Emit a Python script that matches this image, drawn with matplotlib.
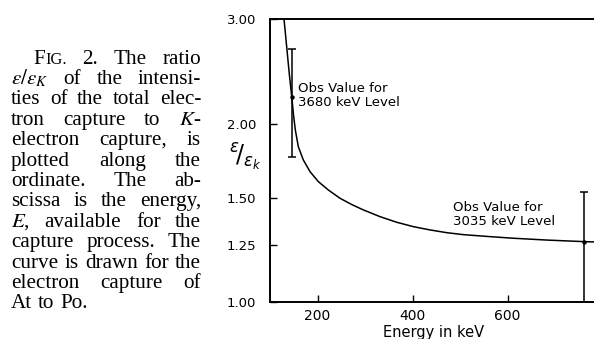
import matplotlib
matplotlib.use('Agg')
import matplotlib.pyplot as plt
from matplotlib.ticker import FixedLocator, FixedFormatter, NullLocator

# ---- data ----
energy_keV = [129.5, 140.0, 145.7, 149.5, 153.3, 159.6, 170.1, 184.2, 201.7,
              222.7, 247.4, 272.0, 296.4, 331.6, 366.7, 401.7, 436.8, 472.0,
              507.0, 563.2, 612.2, 682.5, 763.2, 788.4]
ratio = [3.00, 2.453, 2.220, 2.068, 1.951, 1.829, 1.737, 1.660, 1.597,
         1.546, 1.497, 1.461, 1.431, 1.394, 1.364, 1.341, 1.324, 1.310,
         1.300, 1.290, 1.282, 1.273, 1.265, 1.2635]

obs_energy = [145.6, 760]
obs_ratio = [2.22, 1.265]
obs_low = [1.76, 1.0]
obs_high = [2.67, 1.536]
obs_labels = ["Obs Value for\n3680 keV Level", "Obs Value for\n3035 keV Level"]
obs_label_pos = [(158, 2.228), (486, 1.403)]

y_ticks = [1.00, 1.25, 1.50, 2.00, 3.00]
y_ticklabels = ["1.00", "1.25", "1.50", "2.00", "3.00"]
x_ticks = [200, 400, 600]
x_ticklabels = ["200", "400", "600"]

caption_lines = [
    ["FIG.", "2.", "The", "ratio"],
    [r"$\epsilon/\epsilon_K$", "of", "the", "intensi-"],
    ["ties", "of", "the", "total", "elec-"],
    ["tron", "capture", "to", r"$K$-"],
    ["electron", "capture,", "is"],
    ["plotted", "along", "the"],
    ["ordinate.", "The", "ab-"],
    ["scissa", "is", "the", "energy,"],
    [r"$E$,", "available", "for", "the"],
    ["capture", "process.", "The"],
    ["curve", "is", "drawn", "for", "the"],
    ["electron", "capture", "of"],
    ["At", "to", "Po."],
]

W, H = 594, 339
fig = plt.figure(figsize=(W / 100, H / 100), dpi=100)
fig.patch.set_facecolor('white')

# axes geometry in pixels
ax_left, ax_top, ax_bottom = 270, 19, 302.3
x_min, x_max = 100, 790
px_per_keV = 0.475
ax_right = ax_left + (x_max - x_min) * px_per_keV
ax = fig.add_axes([ax_left / W, 1 - ax_bottom / H,
                   (ax_right - ax_left) / W, (ax_bottom - ax_top) / H])

ax.plot(energy_keV, ratio, color='black', lw=1.1, solid_capstyle='round',
        solid_joinstyle='round')
for e, r, lo, hi in zip(obs_energy, obs_ratio, obs_low, obs_high):
    ax.errorbar([e], [r], yerr=[[r - lo], [hi - r]], fmt='o', ms=2.2,
                color='black', ecolor='black', elinewidth=1.1, capsize=2.6,
                capthick=1.1, clip_on=True)
for txt, (xx, yy) in zip(obs_labels, obs_label_pos):
    ax.text(xx, yy, txt, fontsize=9.5, ha='left', va='center',
            linespacing=1.1, family='DejaVu Sans')

ax.set_yscale('log')
ax.set_xlim(x_min, x_max)
ax.set_ylim(1.0, 3.0)
ax.yaxis.set_major_locator(FixedLocator(y_ticks))
ax.yaxis.set_major_formatter(FixedFormatter(y_ticklabels))
ax.yaxis.set_minor_locator(NullLocator())
ax.xaxis.set_major_locator(FixedLocator(x_ticks))
ax.xaxis.set_major_formatter(FixedFormatter(x_ticklabels))
ax.tick_params(axis='both', direction='in', length=5, width=1.0, labelsize=9.5)
ax.tick_params(axis='y', pad=10)
ax.tick_params(axis='x', pad=5, labelsize=10)
for s in ['left', 'top', 'bottom']:
    ax.spines[s].set_linewidth(1.4)
ax.spines['right'].set_visible(False)
ax.set_xlabel("Energy in keV", fontsize=10.5, labelpad=1)

# y-axis label drawn as a slashed fraction  (epsilon / epsilon_k), one text
fig.text(245 / W, 1 - 157 / H, r"${}^{\epsilon}\!/{}_{\epsilon_{k}}$",
         fontsize=17, ha='center', va='center')

# ---- justified caption at the left ----
renderer = fig.canvas.get_renderer()
cap_family = 'Liberation Serif'
left_px, right_px, indent_px = 11, 201.7, 33
base0, lead = 63.5, 20.4


def make_word(word, fs):
    """Return list of Text objects making up a word, and their pixel widths."""
    if word == "FIG.":
        parts = [("F", fs), ("IG.", fs * 0.78)]
    else:
        parts = [(word, fs)]
    objs = []
    for s, size in parts:
        t = fig.text(0, 0, s, fontsize=size, family=cap_family,
                     math_fontfamily='stix', va='baseline', ha='left')
        objs.append(t)
    widths = [o.get_window_extent(renderer).width + 0.6 for o in objs]
    return objs, widths


def natural_width(words, fs):
    total = 0
    sp = fs * 100 / 72 * 0.25
    for w in words:
        objs, widths = make_word(w, fs)
        total += sum(widths)
        for o in objs:
            o.remove()
    return total + sp * (len(words) - 1)


# choose a font size so that the tightest line fits the column
test_fs = 10.0
best = 99
for i, words in enumerate(caption_lines):
    avail = right_px - (indent_px if i == 0 else left_px)
    nw = natural_width(words, test_fs)
    best = min(best, test_fs * avail / nw)
cap_fs = best * 0.995

for i, words in enumerate(caption_lines):
    x0 = indent_px if i == 0 else left_px
    base = base0 + i * lead
    items = [make_word(w, cap_fs) for w in words]
    total = sum(sum(wd) for _, wd in items)
    if i < len(caption_lines) - 1 and len(words) > 1:
        gap = (right_px - x0 - total) / (len(words) - 1)
    else:
        gap = cap_fs * 100 / 72 * 0.25
    x = x0
    for objs, widths in items:
        for o, wd in zip(objs, widths):
            o.set_position((x / W, 1 - base / H))
            x += wd
        x += gap

fig.savefig("out.png", dpi=100, facecolor='white')
